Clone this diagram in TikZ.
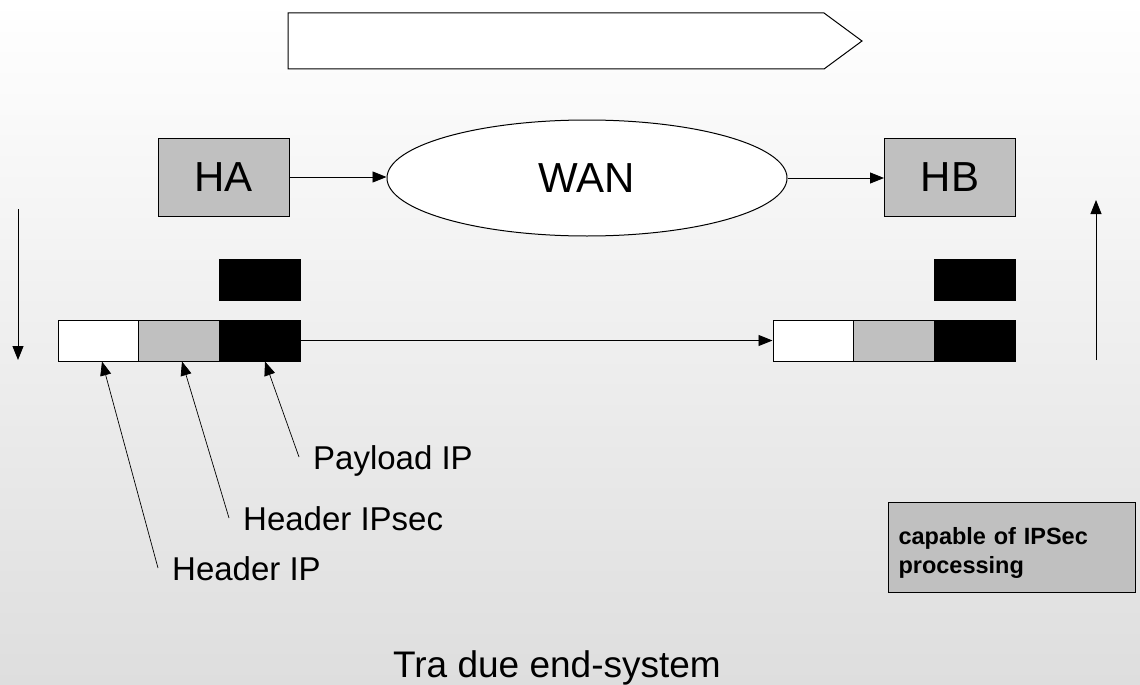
\documentclass[tikz,border=0pt]{standalone}
\usepackage{fontspec}
\setmainfont{Liberation Sans}
\usetikzlibrary{shapes.geometric,arrows.meta}
\definecolor{hostgray}{RGB}{192,192,192}
\definecolor{bggray}{RGB}{222,222,222}
\tikzset{
	host/.style={draw,fill=hostgray,line width=1pt,minimum width=131pt,minimum height=78pt,inner sep=0pt,font=\fontsize{42}{50}\selectfont},
	cell/.style={draw,line width=1pt,minimum width=81pt,minimum height=41pt,inner sep=0pt},
	conn/.style={-{Triangle[length=14pt,width=11pt]},line width=0.9pt},
	leader/.style={-{Triangle[length=14pt,width=11pt]},line width=0.7pt},
	lbl/.style={anchor=base west,inner sep=0pt,font=\fontsize{33}{40}\selectfont}
}

\begin{document}
\begin{tikzpicture}[x=1pt,y=-1pt]
			\shade[top color=white,bottom color=bggray] (0,0) rectangle (1140,685);
			\useasboundingbox (0,0) rectangle (1140,685);

			\draw[line width=1pt,fill=white] (288,13) -- (824,13) -- (862,41) -- (824,69) -- (288,69) -- cycle;

			\node[host] (ha) at (223.5,177) {HA};
			\node[host] (hb) at (950,177) {HB};
			\node[draw,ellipse,fill=white,line width=1pt,minimum width=400pt,minimum height=116pt,inner sep=0pt,font=\fontsize{42}{50}\selectfont] (wan) at (587,178) {WAN};

			\node[cell,fill=black] (pa) at (259.5,280) {};
			\node[cell,fill=white] (la) at (98.5,340.5) {};
			\node[cell,fill=hostgray] (lb) at (179,340.5) {};
			\node[cell,fill=black] (lc) at (259.5,340.5) {};

			\node[cell,fill=black] (pb) at (975,280) {};
			\node[cell,fill=white] (ra) at (813.5,340.5) {};
			\node[cell,fill=hostgray] (rb) at (894,340.5) {};
			\node[cell,fill=black] (rc) at (975,340.5) {};

			\node[lbl] (lblpay) at (313,469) {Payload IP};
			\node[lbl] (lblsec) at (243,530) {Header IPsec};
			\node[lbl] (lblip) at (172,580) {Header IP};

			\node[draw,fill=hostgray,line width=1pt,anchor=north west,minimum width=247pt,minimum height=90pt,text width=227pt,inner xsep=10pt,align=left,font=\fontsize{23.5}{29}\selectfont\bfseries] (cap) at (888,502) {\rule{0pt}{27pt}capable of IPSec\\processing};

			\node[anchor=base,inner sep=0pt,font=\fontsize{37}{44}\selectfont] (title) at (557,677) {Tra due end-system};

			\coordinate (downtop) at (18,209);
			\coordinate (downbot) at (18,360);
			\coordinate (uptop) at (1096,200);
			\coordinate (upbot) at (1096,360);
			\coordinate (tailpay) at (299,457);
			\coordinate (tailsec) at (229,518);
			\coordinate (tailip) at (158,568);

			\draw[conn] (ha.east) -- (ha.east -| wan.west);
			\draw[conn] (wan.east) -- (wan.east -| hb.west);
			\draw[conn] (lc.east) -- (ra.west);
			\draw[conn] (downtop) -- (downbot);
			\draw[conn] (upbot) -- (uptop);

			\draw[leader] (tailpay) -- ([xshift=5.5pt]lc.south);
			\draw[leader] (tailsec) -- ([xshift=3pt]lb.south);
			\draw[leader] (tailip) -- ([xshift=3.5pt]la.south);
		\end{tikzpicture}
\end{document}
